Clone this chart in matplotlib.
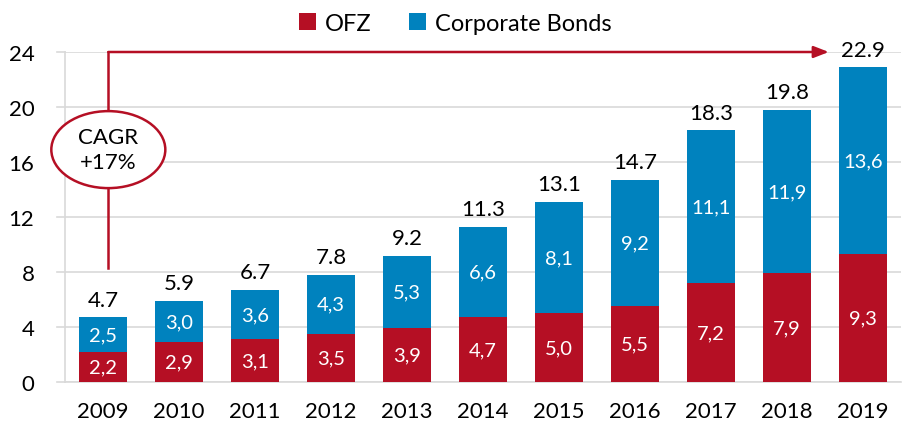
import matplotlib.pyplot as plt
from matplotlib.patches import Ellipse

# ---- données ----
years = ['2009', '2010', '2011', '2012', '2013', '2014', '2015', '2016', '2017', '2018', '2019']
ofz = [2.2, 2.9, 3.1, 3.5, 3.9, 4.7, 5.0, 5.5, 7.2, 7.9, 9.3]
corp = [2.5, 3.0, 3.6, 4.3, 5.3, 6.6, 8.1, 9.2, 11.1, 11.9, 13.6]
totals = [4.7, 5.9, 6.7, 7.8, 9.2, 11.3, 13.1, 14.7, 18.3, 19.8, 22.9]
cagr_text = 'CAGR\n+17%'

red = '#B50F24'
blue = '#0082BE'

plt.rcParams['font.family'] = ['Lato', 'DejaVu Sans']

fig = plt.figure(figsize=(9.02, 4.27), dpi=100)
ax = fig.add_axes([65 / 902, 44 / 427, 836 / 902, 330 / 427])

x = range(len(years))
ax.bar(x, ofz, width=0.64, color=red, label='OFZ', zorder=3)
ax.bar(x, corp, width=0.64, bottom=ofz, color=blue, label='Corporate Bonds', zorder=3)

for i in x:
    ax.text(i, ofz[i] / 2, f'{ofz[i]:.1f}'.replace('.', ','), ha='center', va='center',
            color='white', fontsize=14.5, zorder=4)
    ax.text(i, ofz[i] + corp[i] / 2, f'{corp[i]:.1f}'.replace('.', ','), ha='center',
            va='center', color='white', fontsize=14.5, zorder=4)
    ax.text(i, totals[i] + 0.55, f'{totals[i]:.1f}', ha='center', va='bottom',
            fontsize=16, zorder=4)

ax.set_xlim(-0.5, len(years) - 0.5)
ax.set_ylim(0, 24)
ax.set_yticks(range(0, 25, 4))
ax.set_xticks(list(x))
ax.set_xticklabels(years)
ax.tick_params(axis='both', labelsize=16, length=0)
ax.tick_params(axis='x', pad=14)
ax.tick_params(axis='y', pad=22)
ax.grid(axis='y', color='#D9D9D9', lw=1.2, zorder=0)
for s in ['top', 'right']:
    ax.spines[s].set_visible(False)
ax.spines['left'].set_color('#D9D9D9')
ax.spines['bottom'].set_color('#D9D9D9')
ax.spines['left'].set_linewidth(1.2)
ax.spines['bottom'].set_linewidth(1.2)
# petites graduations à gauche de l'axe
for yt in range(0, 25, 4):
    ax.plot([-0.6, -0.5], [yt, yt], color='#D9D9D9', lw=1.2, clip_on=False)

# ---- flèche CAGR ----
ax.plot([0.07, 0.07], [8.3, 24], color=red, lw=1.8, zorder=5, clip_on=False)
ax.annotate('', xy=(9.55, 24), xytext=(0.07, 24),
            arrowprops=dict(arrowstyle='-|>,head_length=0.9,head_width=0.35',
                            color=red, lw=1.8, shrinkA=0, shrinkB=0), zorder=5)
ell = Ellipse((0.07, 16.9), 1.5, 5.6, facecolor='white', edgecolor=red, lw=1.8,
              zorder=6, clip_on=False)
ax.add_patch(ell)
ax.text(0.07, 16.9, cagr_text, ha='center', va='center', fontsize=16, linespacing=1.35, zorder=7)

fig.legend(loc='upper center', bbox_to_anchor=(0.505, 1.018), ncol=2, frameon=False,
           fontsize=17, handlelength=0.7, handleheight=0.7, handletextpad=0.4,
           columnspacing=1.6)

plt.savefig('out.png', dpi=100)
